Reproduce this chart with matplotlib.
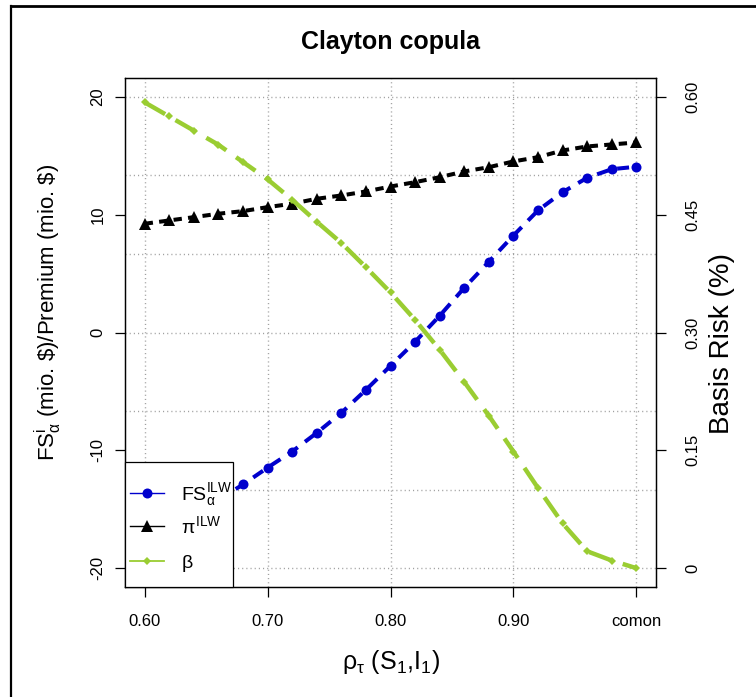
import numpy as np
import matplotlib
matplotlib.use("Agg")
import matplotlib.pyplot as plt
from matplotlib.lines import Line2D
from matplotlib.patches import Rectangle

plt.rcParams['font.family'] = ['Liberation Sans', 'DejaVu Sans']
plt.rcParams['mathtext.fontset'] = 'custom'
plt.rcParams['mathtext.rm'] = 'Liberation Sans'
plt.rcParams['mathtext.it'] = 'Liberation Sans'
plt.rcParams['mathtext.bf'] = 'Liberation Sans:bold'
plt.rcParams['lines.scale_dashes'] = False

# ---- data ----
rho = [0.60, 0.62, 0.64, 0.66, 0.68, 0.70, 0.72, 0.74, 0.76, 0.78, 0.80,
       0.82, 0.84, 0.86, 0.88, 0.90, 0.92, 0.94, 0.96, 0.98, 1.00]
fs_ilw = [-17.7, -16.6, -15.4, -14.2, -12.9, -11.47, -10.1, -8.52, -6.82, -4.87, -2.83,
          -0.79, 1.42, 3.79, 6.0, 8.23, 10.36, 11.91, 13.13, 13.86, 14.07]
pi_ilw = [9.23, 9.51, 9.79, 10.08, 10.30, 10.64, 10.93, 11.35, 11.63, 11.97, 12.39,
          12.76, 13.18, 13.67, 14.03, 14.52, 14.88, 15.45, 15.79, 15.96, 16.13]
beta = [0.593, 0.575, 0.557, 0.539, 0.517, 0.495, 0.469, 0.441, 0.414, 0.383, 0.351,
        0.316, 0.278, 0.237, 0.194, 0.1485, 0.102, 0.057, 0.0215, 0.0097, 0.0]

xticks = [0.60, 0.70, 0.80, 0.90, 1.00]
xtick_labels = ['0.60', '0.70', '0.80', '0.90', 'comon']
yticks_left = [-20, -10, 0, 10, 20]
yticks_right = [0.0, 0.15, 0.30, 0.45, 0.60]
yticks_right_labels = ['0', '0.15', '0.30', '0.45', '0.60']
grid_y = [-20, -13.33, -6.67, 0, 6.67, 13.33, 20]
legend_labels = [r'FS$^{\mathrm{ILW}}_{\alpha}$', r'$\pi^{\mathrm{ILW}}$', r'$\beta$']

W, H = 756, 697
fig = plt.figure(figsize=(W / 100, H / 100), dpi=100)
L, R, T, B = 125, 656, 78, 587
ax = fig.add_axes([L / W, 1 - B / H, (R - L) / W, (B - T) / H])
ax.set_xlim(0.584, 1.016)
ax.set_ylim(-21.6, 21.6)


def fx(px):
    return px / W


def fy(py):
    return 1 - py / H


grid_kw = dict(color='#A0A0A0', lw=1.0, linestyle=(0, (0.8, 2.2)), zorder=0.5)
for g in grid_y:
    ax.axhline(g, **grid_kw)
for g in xticks:
    ax.axvline(g, **grid_kw)

blue = '#0000CD'
green = '#9ACD32'
ax.plot(rho, fs_ilw, color=blue, lw=2.9, linestyle=(0, (8.6, 6.5)),
        marker='o', markersize=7.2, markeredgewidth=0, zorder=3)
ax.plot(rho, pi_ilw, color='black', lw=2.9, linestyle=(0, (6.0, 4.5)),
        marker='^', markersize=8.3, markeredgewidth=0, zorder=3)

ax2 = ax.twinx()
ax2.set_ylim(-0.024, 0.624)
ax2.plot(rho, beta, color=green, lw=3.2, linestyle=(0, (17, 8.6)),
         marker='D', markersize=3.6, markeredgewidth=0, zorder=3)

for a in (ax, ax2):
    for s in a.spines.values():
        s.set_linewidth(0.9)

ax.set_xticks(xticks)
ax.set_xticklabels(xtick_labels)
ax.set_yticks(yticks_left)
ax.set_yticklabels([str(v) for v in yticks_left])
ax2.set_yticks(yticks_right)
ax2.set_yticklabels(yticks_right_labels)

ax.tick_params(axis='x', length=7.2, width=0.9, pad=12, labelsize=12)
ax.tick_params(axis='y', length=7.2, width=0.9, pad=7, labelsize=12, labelrotation=90)
ax2.tick_params(axis='y', length=7.2, width=0.9, pad=14, labelsize=12, labelrotation=90)
for lab in ax.get_yticklabels():
    lab.set_va('center')
for lab in ax2.get_yticklabels():
    lab.set_va('center')

# labels
fig.text(fx(390.5), fy(49), 'Clayton copula', ha='center', va='baseline',
         fontsize=18, fontweight='bold')
fig.text(fx(390.5), fy(661.6), r'$\rho_{\tau}$ (S$_1$,I$_1$)', ha='center', va='center',
         fontsize=18)
fig.text(fx(48), fy(312), r'FS$^{\mathrm{i}}_{\alpha}$ (mio. \$)/Premium (mio. \$)',
         ha='center', va='center', rotation=90, fontsize=16)
fig.text(fx(722), fy(344), 'Basis Risk (%)', ha='center', va='center',
         rotation=90, fontsize=20)

# legend (drawn by hand to match the R legend box)
leg_left, leg_right, leg_top, leg_bottom = 125, 233, 462, 587
fig.add_artist(Rectangle((fx(leg_left), fy(leg_bottom)), fx(leg_right) - fx(leg_left),
                         fy(leg_top) - fy(leg_bottom), transform=fig.transFigure,
                         facecolor='white', edgecolor='black', lw=0.9, zorder=10))
rows = [492.7, 526.3, 561.0]
styles = [
    dict(color=blue, lw=1.0, marker='o', markersize=7.2),
    dict(color='black', lw=1.0, marker='^', markersize=8.3),
    dict(color=green, lw=1.3, marker='D', markersize=3.6),
]
for ry, st, lab in zip(rows, styles, legend_labels):
    fig.add_artist(Line2D([fx(130), fx(164)], [fy(ry), fy(ry)], transform=fig.transFigure,
                          zorder=11, **{k: v for k, v in st.items() if k not in ('marker', 'markersize')}))
    fig.add_artist(Line2D([fx(147)], [fy(ry)], transform=fig.transFigure, zorder=12,
                          color=st['color'], marker=st['marker'], markersize=st['markersize'],
                          markeredgewidth=0, linestyle='none'))
    fig.text(fx(181), fy(ry + 7.2), lab, ha='left', va='baseline', fontsize=14, zorder=12)

# outer frame of the source figure
fig.add_artist(Line2D([fx(11), 1], [fy(6), fy(6)], color='black', lw=2,
                      transform=fig.transFigure))
fig.add_artist(Line2D([fx(11), fx(11)], [0, fy(6)], color='black', lw=1.6,
                      transform=fig.transFigure))

fig.savefig('out.png', dpi=100)
